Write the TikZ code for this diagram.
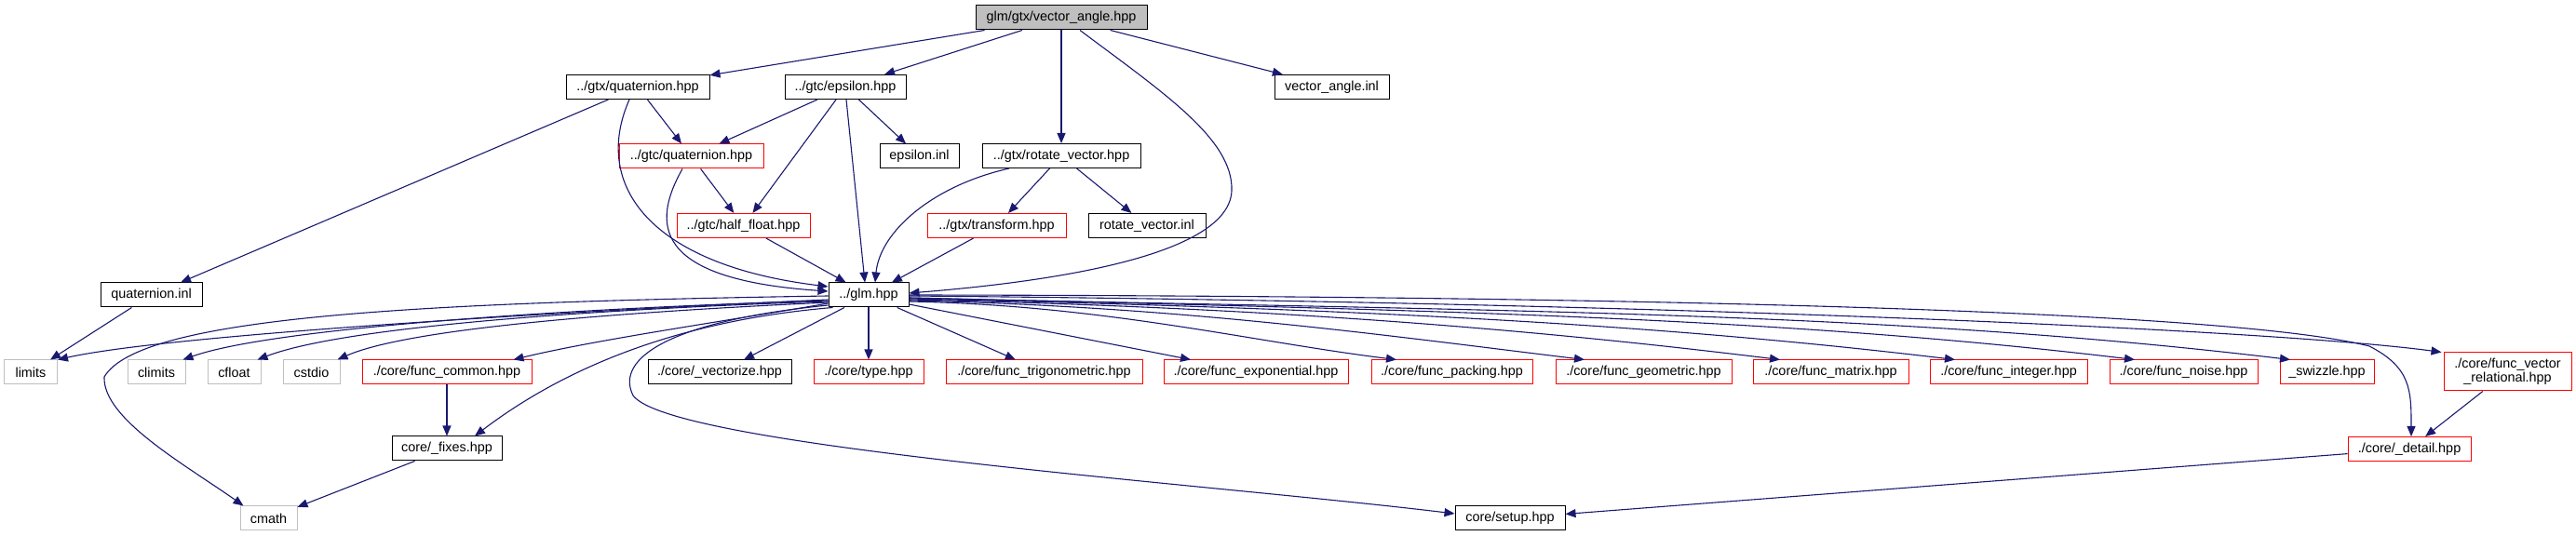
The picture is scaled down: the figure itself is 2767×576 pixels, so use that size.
\documentclass[tikz,border=0pt]{standalone}
\usepackage{fontspec}
\setmainfont{Liberation Sans}
\usetikzlibrary{arrows.meta,calc}
\definecolor{mblue}{HTML}{191970}
\definecolor{gbox}{HTML}{BFBFBF}
\begin{document}
\begin{tikzpicture}[x=0.5pt,y=-0.5pt,
  box/.style={draw=black, line width=0.5pt, fill=white, inner sep=0pt,
    minimum height=13pt, align=center, text=black,
    font=\fontsize{7.2pt}{7.6pt}\selectfont},
  redbox/.style={box, draw=red},
  graybox/.style={box, draw=gbox},
  topbox/.style={box, fill=gbox},
  bw/.style={minimum width=#1*0.5pt},
  bh/.style={minimum height=#1*0.5pt},
  edge/.style={draw=mblue, line width=0.55pt, -{Triangle[length=5.5pt,width=4.5pt]}}]
\useasboundingbox (0,0) rectangle (2767,576);

% nodes
\node[topbox, bw=184] (T) at (1140,19) {glm/gtx/vector\_angle.hpp};
\node[box, bw=123] (VAI) at (1430.5,93.5) {vector\_angle.inl};
\node[box, bw=154] (GQ) at (685,93.5) {../gtx/quaternion.hpp};
\node[box, bw=130] (EPS) at (908,93.5) {../gtc/epsilon.hpp};
\node[redbox, bw=155] (CQ) at (742.5,168) {../gtc/quaternion.hpp};
\node[box, bw=85] (EI) at (987.5,168) {epsilon.inl};
\node[box, bw=170] (RV) at (1140,167.5) {../gtx/rotate\_vector.hpp};
\node[redbox, bw=143] (HF) at (798.5,242.5) {../gtc/half\_float.hpp};
\node[redbox, bw=149] (TR) at (1070.5,242.5) {../gtx/transform.hpp};
\node[box, bw=126] (RVI) at (1232,242.5) {rotate\_vector.inl};
\node[box, bw=109] (QI) at (162.5,317) {quaternion.inl};
\node[box, bw=86] (GLM) at (933,317) {../glm.hpp};
\node[graybox, bw=57] (limits) at (33,400) {limits};
\node[graybox, bw=62] (climits) at (168,400) {climits};
\node[graybox, bw=57] (cfloat) at (251.5,400) {cfloat};
\node[graybox, bw=61] (cstdio) at (334.5,400) {cstdio};
\node[redbox, bw=182] (fcommon) at (480,400) {./core/func\_common.hpp};
\node[box, bw=154] (vect) at (773,400) {./core/\_vectorize.hpp};
\node[redbox, bw=118] (type) at (933,400) {./core/type.hpp};
\node[redbox, bw=211] (trig) at (1121.5,400) {./core/func\_trigonometric.hpp};
\node[redbox, bw=198] (expo) at (1349,400) {./core/func\_exponential.hpp};
\node[redbox, bw=173] (pack) at (1559.5,400) {./core/func\_packing.hpp};
\node[redbox, bw=189] (geom) at (1765.5,400) {./core/func\_geometric.hpp};
\node[redbox, bw=167] (matr) at (1966.5,400) {./core/func\_matrix.hpp};
\node[redbox, bw=169] (integ) at (2157.5,400) {./core/func\_integer.hpp};
\node[redbox, bw=159] (noise) at (2345.5,400) {./core/func\_noise.hpp};
\node[redbox, bw=101] (swz) at (2499.5,400) {\_swizzle.hpp};
\node[redbox, bw=137, bh=41] (fvr) at (2693.5,399.5) {./core/func\_vector\\\_relational.hpp};
\node[box, bw=118] (fixes) at (480,482) {core/\_fixes.hpp};
\node[redbox, bw=132] (detail) at (2588,482.5) {./core/\_detail.hpp};
\node[graybox, bw=61] (cmath) at (288.5,557) {cmath};
\node[box, bw=118] (setup) at (1622,557) {core/setup.hpp};

% edges from top
\draw[edge] (T) -- (GQ);
\draw[edge] (T) -- (EPS);
\draw[edge] (T) -- (RV);
\draw[edge] (T) -- (VAI);
\draw[edge] ($(T.south)+(20,0)$) .. controls (1250,100) and (1325,150) .. (1323,205)
  .. controls (1320,280) and (1100,305) .. ($(GLM.east)+(0,-2)$);

% gtx/quaternion
\draw[edge] (GQ) -- (QI);
\draw[edge] (GQ) -- (CQ);
\draw[edge] ($(GQ.south)+(-9,0)$) .. controls (635,200) and (700,285) .. ($(GLM.west)+(0,-9)$);

% epsilon
\draw[edge] (EPS) -- (CQ);
\draw[edge] (EPS) -- (HF);
\draw[edge] (EPS) -- (EI);
\draw[edge] ($(EPS.south)+(1,0)$) -- ($(GLM.north)+(-4,0)$);

% gtc/quaternion
\draw[edge] (CQ) -- (HF);
\draw[edge] ($(CQ.south)+(-9.5,0)$) .. controls (700,240) and (700,300) .. ($(GLM.west)+(0,-4)$);

% rotate_vector
\draw[edge] (RV) -- (TR);
\draw[edge] (RV) -- (RVI);
\draw[edge] ($(RV.south)+(-56,0)$) .. controls (1000,200) and (945,250) .. ($(GLM.north)+(7,0)$);

\draw[edge] (HF) -- (GLM);
\draw[edge] (TR) -- (GLM);
\draw[edge] (QI) -- (limits);

% glm.hpp outgoing, left side
\draw[edge] ($(GLM.west)+(0,5)$) .. controls (600,335) and (180,360) .. (limits.north east);
\draw[edge] ($(GLM.west)+(0,6)$) .. controls (650,330) and (300,350) .. ($(climits.north east)+(-3,0)$);
\draw[edge] ($(GLM.west)+(0,7)$) .. controls (700,330) and (380,347) .. ($(cfloat.north east)+(-4,0)$);
\draw[edge] ($(GLM.west)+(0,8)$) .. controls (740,332) and (450,348) .. ($(cstdio.north east)+(-3,0)$);
\draw[edge] ($(GLM.west)+(0,9)$) .. controls (780,345) and (640,365) .. ($(fcommon.north east)+(-20,0)$);
\draw[edge] ($(GLM.south west)+(5,0)$) .. controls (720,345) and (600,400) .. ($(fixes.north)+(30,0)$);
\draw[edge] ($(GLM.west)+(0,1)$) .. controls (450,325) and (150,340) .. (112,405)
  .. controls (110,450) and (200,500) .. ($(cmath.north west)+(4,0)$);
\draw[edge] ($(GLM.west)+(0,11)$) .. controls (720,345) and (660,385) .. (680,425)
  .. controls (720,480) and (1300,520) .. ($(setup.west)+(0,-5)$);

% glm.hpp outgoing, below
\draw[edge] (GLM) -- (vect);
\draw[edge] (GLM) -- (type);
\draw[edge] (GLM) -- (trig);

% glm.hpp outgoing, right side
\draw[edge] ($(GLM.east)+(0,10)$) -- ($(expo.north)+(-70,0)$);
\draw[edge] ($(GLM.east)+(0,7)$) .. controls (1186,328) and (1343,367) .. ($(pack.north)+(-59.5,0)$);
\draw[edge] ($(GLM.east)+(0,6)$) .. controls (1266,329) and (1484,360) .. ($(geom.north)+(-63.5,0)$);
\draw[edge] ($(GLM.east)+(0,5)$) .. controls (1350,330) and (1631,352) .. ($(matr.north)+(-54.5,0)$);
\draw[edge] ($(GLM.east)+(0,4)$) .. controls (1426,331) and (1763,346) .. ($(integ.north)+(-57.5,0)$);
\draw[edge] ($(GLM.east)+(0,3)$) .. controls (1503,333) and (1898,339) .. ($(noise.north)+(-52.5,0)$);
\draw[edge] ($(GLM.east)+(0,3)$) .. controls (1570,334) and (2015,333) .. ($(swz.north)+(-39.5,0)$);
\draw[edge] ($(GLM.east)+(0,1)$) .. controls (1800,325) and (2450,355) .. ($(fvr.north west)+(-2,0)$);
\draw[edge] ($(GLM.east)+(0,0)$) .. controls (1800,318) and (2400,335) .. (2545,372)
  .. controls (2590,395) and (2590,420) .. ($(detail.north)+(2,0)$);

% lower
\draw[edge] (fcommon) -- (fixes);
\draw[edge] (fixes) -- (cmath);
\draw[edge] (fvr) -- (detail);
\draw[edge] (detail) -- (setup);
\end{tikzpicture}
\end{document}
